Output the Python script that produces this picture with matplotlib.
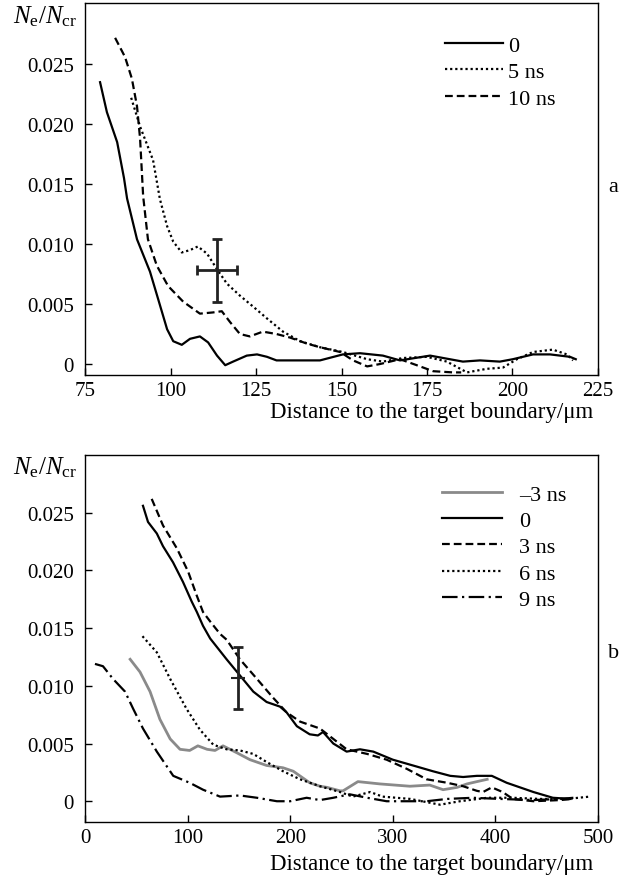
import matplotlib
matplotlib.use("Agg")
from matplotlib import pyplot as plt

plt.rcParams["font.family"] = ["Liberation Serif", "DejaVu Serif"]
plt.rcParams["mathtext.fontset"] = "custom"
plt.rcParams["mathtext.rm"] = "Liberation Serif"
plt.rcParams["mathtext.it"] = "Liberation Serif:italic"
plt.rcParams["font.size"] = 15

# ---- panel a ----
a0_x = [79.4, 81.4, 84.4, 86.4, 87.3, 90.2, 94, 96.4, 99, 100.8, 103.3, 105.7, 108.6, 111, 113.6,
        116, 118.3, 122.3, 125.3, 128.2, 131, 137.9, 143.7, 150.4, 155.4, 162.1, 167.1, 175.9,
        185.5, 190.5, 196.3, 200.1, 206, 211, 216.8, 218.5]
a0_y = [0.0235, 0.021, 0.0185, 0.0155, 0.0138, 0.0104, 0.0077, 0.0054, 0.0029, 0.0019, 0.0016, 0.0021,
        0.0023, 0.0018, 0.0007, -0.0001, 0.0002, 0.0007, 0.0008, 0.0006, 0.0003, 0.0003, 0.0003,
        0.0008, 0.0009, 0.0007, 0.0003, 0.0007, 0.0002, 0.0003, 0.0002, 0.0004, 0.0008, 0.0008,
        0.0006, 0.0004]

a5_x = [88.5, 91.1, 94.9, 96.9, 99.0, 100.8, 103.3, 105.7, 108.0, 110.7, 113.6, 116.5, 120.3, 124.1,
        128.2, 132.9, 137.9, 143.7, 150.4, 157.5, 162.1, 168, 175, 180.8, 186.7, 192.5, 197.2,
        201.3, 206, 211.8, 215.9, 217.7]
a5_y = [0.0222, 0.0198, 0.0170, 0.01375, 0.0115, 0.0102, 0.0093, 0.0095, 0.0098, 0.0092, 0.0079,
        0.0067, 0.0057, 0.0048, 0.0038, 0.0027, 0.0019, 0.0014, 0.0010, 0.0004, 0.0002, 0.0005,
        0.0006, 0.0002, -0.0007, -0.0004, -0.0003, 0.0004, 0.0010, 0.0012, 0.0008, 0.0003]

a10_x = [83.8, 86.7, 88.7, 90.2, 91.1, 92.0, 93.4, 96, 99.3, 103.7, 108.6, 112.4, 115, 117.4, 120.3,
         123.2, 127, 131, 135, 139.9, 143.7, 149.6, 153.4, 157.5, 161.3, 167.1, 172, 176.8, 182.6,
         185]
a10_y = [0.0272, 0.0256, 0.0238, 0.0215, 0.0188, 0.0140, 0.0104, 0.0082, 0.0065, 0.0052, 0.0042,
         0.0043, 0.0044, 0.0035, 0.0025, 0.0023, 0.0027, 0.0025, 0.0022, 0.0017, 0.0014, 0.0010,
         0.0003, -0.0002, 0.0, 0.0004, -0.0001, -0.0006, -0.0007, -0.0007]

# ---- panel b ----
bm3_x = [44, 53.6, 63.4, 73, 83, 92.6, 102, 110, 119, 126.7, 134.5, 148, 160.8, 177, 193, 203, 219,
         229, 236, 248.5, 251.5, 266, 287.5, 316.7, 336, 349, 362.6, 372.3, 382, 392]
bm3_y = [0.0123, 0.0112, 0.0095, 0.0071, 0.0054, 0.0045, 0.0044, 0.0048, 0.0045, 0.0044, 0.0048,
         0.0042, 0.0036, 0.0031, 0.0029, 0.0026, 0.0016, 0.0013, 0.0012, 0.0009, 0.0009, 0.0017,
         0.0015, 0.0013, 0.0014, 0.0010, 0.0012, 0.0015, 0.0017, 0.0019]

b0_x = [56.5, 61.4, 70, 76, 85.8, 95.5, 104, 109, 115, 122, 138, 151, 164, 177, 190, 196.5, 206.5,
        219, 227, 232, 242, 255, 268, 281, 300, 323.5, 339, 356, 368.5, 382, 396.5, 411, 437, 456,
        473]
b0_y = [0.0256, 0.0242, 0.0232, 0.0221, 0.0207, 0.0190, 0.0173, 0.0164, 0.0152, 0.0141, 0.0123,
        0.0109, 0.0095, 0.0086, 0.0082, 0.0077, 0.0065, 0.0058, 0.0057, 0.0060, 0.0050, 0.0043,
        0.0045, 0.0043, 0.0036, 0.0030, 0.0026, 0.0022, 0.0021, 0.0022, 0.0022, 0.0016, 0.0008,
        0.0003, 0.0002]

b3_x = [65, 76, 89.6, 100.5, 109, 115, 121.8, 131.6, 138, 151, 167.6, 183, 196.5, 209.6, 229, 242,
        255, 275, 294, 313.8, 333, 353, 368.5, 382, 388, 396.5, 407, 417, 437, 463, 476]
b3_y = [0.0262, 0.0239, 0.0219, 0.0199, 0.0178, 0.0164, 0.0156, 0.0145, 0.0140, 0.0123, 0.0106,
        0.0090, 0.0077, 0.0069, 0.0063, 0.0054, 0.0045, 0.0041, 0.0036, 0.0028, 0.0019, 0.0016,
        0.0013, 0.0009, 0.0008, 0.0012, 0.0008, 0.0002, 0.0, 0.0001, 0.0002]

b6_x = [56, 70, 83, 99, 112, 125, 138, 151, 164, 177, 193, 209.6, 229, 248.5, 261, 278, 290, 317,
        346, 365.5, 392, 417, 443.5, 470, 492]
b6_y = [0.0143, 0.0129, 0.0106, 0.0080, 0.0062, 0.0049, 0.0045, 0.0044, 0.0041, 0.0034, 0.0026,
        0.0019, 0.0013, 0.0008, 0.0004, 0.0008, 0.0004, 0.0002, -0.0003, 0.0, 0.0003, 0.0003,
        0.0002, 0.0002, 0.0004]

b9_x = [9.7, 17.5, 27.3, 39, 47, 56.5, 70, 86, 102, 115, 131.6, 151, 167.6, 187, 200, 216, 229,
        242, 258, 275, 294, 314, 333, 353, 378, 404.5, 437, 463, 476]
b9_y = [0.0119, 0.0117, 0.0106, 0.0095, 0.0080, 0.0063, 0.0043, 0.0022, 0.0016, 0.0010, 0.0004,
        0.0005, 0.0003, 0.0, 0.0, 0.0003, 0.0001, 0.0003, 0.0006, 0.0003, 0.0, 0.0, 0.0, 0.0002,
        0.0003, 0.0002, 0.0001, 0.0002, 0.0003]

# error bars: (x, y, xerr, yerr)
err_a = (113.6, 0.0078, 5.8, 0.0026)
err_b = (149, 0.0107, 6.5, 0.0027)

lw = 1.6
dotted = (0, (1.0, 1.3))
dashed = (0, (3.5, 1.8))
dashdot = (0, (7, 2, 1, 2))

fig = plt.figure(figsize=(6.33, 8.79), dpi=100)
ax1 = fig.add_axes([0.1343, 0.5722, 0.8104, 0.4232])
ax2 = fig.add_axes([0.1343, 0.0637, 0.8104, 0.4175])

ax1.plot(a0_x, a0_y, color="k", lw=lw, ls="-", label="0")
ax1.plot(a5_x, a5_y, color="k", lw=lw, ls=dotted, label="5 ns")
ax1.plot(a10_x, a10_y, color="k", lw=lw, ls=dashed, label="10 ns")
ax1.errorbar(err_a[0], err_a[1], xerr=err_a[2], yerr=err_a[3], color="#222222",
             lw=2, capsize=3.5, capthick=2)
ax1.set_xlim(75, 225)
ax1.set_ylim(-0.00092, 0.0301)
ax1.set_xticks([75, 100, 125, 150, 175, 200, 225])
ax1.set_xticklabels(["75", "100", "125", "150", "175", "200", "225"])
ax1.set_yticks([0, 0.005, 0.010, 0.015, 0.020, 0.025])
ax1.set_yticklabels(["0", "0.005", "0.010", "0.015", "0.020", "0.025"])

ax2.plot(bm3_x, bm3_y, color="#8a8a8a", lw=2.0, ls="-", label="\u20133 ns")
ax2.plot(b0_x, b0_y, color="k", lw=lw, ls="-", label="0")
ax2.plot(b3_x, b3_y, color="k", lw=lw, ls=dashed, label="3 ns")
ax2.plot(b6_x, b6_y, color="k", lw=lw, ls=dotted, label="6 ns")
ax2.plot(b9_x, b9_y, color="k", lw=lw, ls=dashdot, label="9 ns")
ax2.errorbar(err_b[0], err_b[1], yerr=err_b[3], color="#222222", lw=2, capsize=3.5, capthick=2)
ax2.errorbar(err_b[0], err_b[1], xerr=err_b[2], color="#222222", lw=1.5, capsize=0)
ax2.set_xlim(0, 500)
ax2.set_ylim(-0.0018, 0.0300)
ax2.set_xticks([0, 100, 200, 300, 400, 500])
ax2.set_xticklabels(["0", "100", "200", "300", "400", "500"])
ax2.set_yticks([0, 0.005, 0.010, 0.015, 0.020, 0.025])
ax2.set_yticklabels(["0", "0.005", "0.010", "0.015", "0.020", "0.025"])

for ax in (ax1, ax2):
    ax.tick_params(direction="in", length=5, width=1, labelsize=15)
    ax.tick_params(axis="y", pad=8)
    ax.tick_params(axis="x", pad=4)
    for s in ax.spines.values():
        s.set_linewidth(1.0)

ax1.legend(loc="upper left", bbox_to_anchor=(445 / 633, 1 - 36 / 879),
           bbox_transform=fig.transFigure, frameon=False, fontsize=16,
           handlelength=2.6, handletextpad=0.25, labelspacing=0.27,
           borderpad=0, borderaxespad=0)
ax2.legend(loc="upper left", bbox_to_anchor=(442 / 633, 1 - 485 / 879),
           bbox_transform=fig.transFigure, frameon=False, fontsize=16,
           handlelength=2.7, handletextpad=0.75, labelspacing=0.26,
           borderpad=0, borderaxespad=0)

ylab = r"$\mathit{N}_{\mathrm{e}}/\mathit{N}_{\mathrm{cr}}$"
fig.text(77 / 633, 1 - 17 / 879, ylab, ha="right", va="center", fontsize=18)
fig.text(77 / 633, 1 - 468 / 879, ylab, ha="right", va="center", fontsize=18)

xlab = "Distance to the target boundary/\u03bcm"
fig.text(593 / 633, 1 - 418 / 879, xlab, ha="right", va="baseline", fontsize=16.5)
fig.text(593 / 633, 1 - 870 / 879, xlab, ha="right", va="baseline", fontsize=16.5)

fig.text(608 / 633, 1 - 187 / 879, "a", ha="left", va="center", fontsize=16)
fig.text(608 / 633, 1 - 653 / 879, "b", ha="left", va="center", fontsize=16)

plt.savefig("out.png", dpi=100)
